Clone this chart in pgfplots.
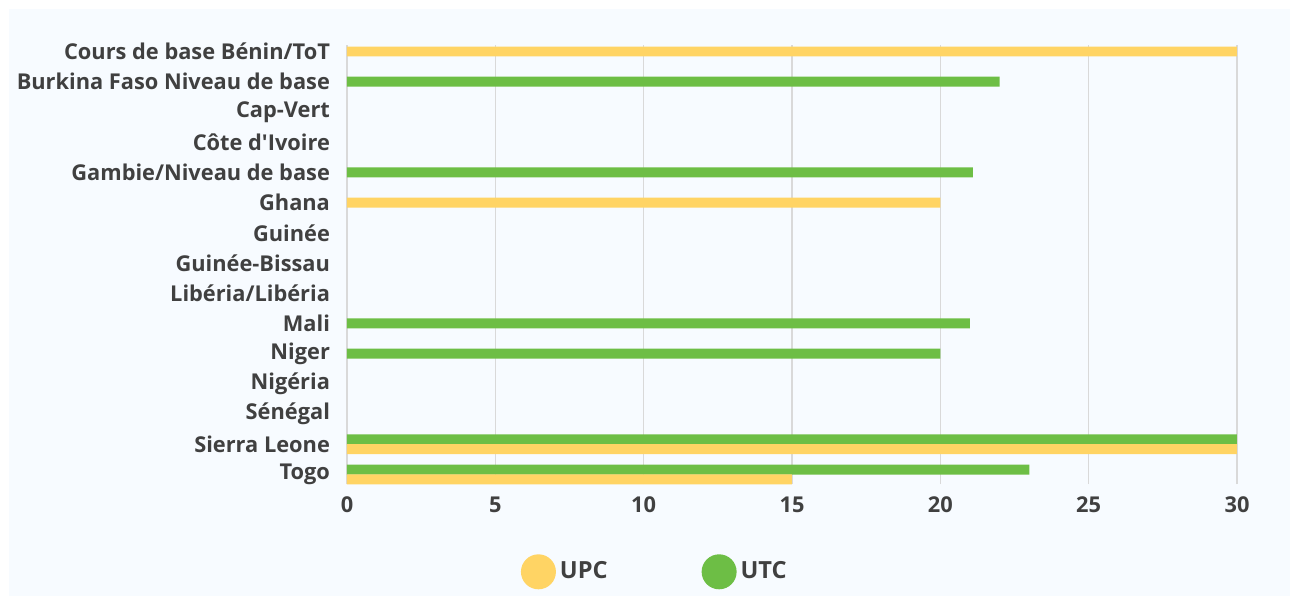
\documentclass[border=0pt]{standalone}
\usepackage{pgfplots}
\pgfplotsset{compat=1.18}
\usepackage{fontspec}
\setmainfont{Open Sans}
\definecolor{upc}{RGB}{255,212,100}
\definecolor{utc}{RGB}{109,190,69}
\definecolor{bg}{RGB}{247,251,255}
\definecolor{gridc}{RGB}{217,217,217}
\definecolor{txt}{RGB}{64,64,64}
\begin{document}
\begin{tikzpicture}
\useasboundingbox (-173.5pt,-56pt) rectangle (471.5pt,242pt);
\fill[white] (-173.5pt,-56pt) rectangle (471.5pt,242pt);
\fill[bg] (-169pt,-56pt) rectangle (471.5pt,237.5pt);
\begin{axis}[
  at={(0,0)}, anchor=south west,
  scale only axis,
  width=445pt, height=219.5pt,
  xbar, bar width=0.33,
  xmin=0, xmax=30,
  ymin=-0.314, ymax=14.215,
  xtick={0,5,...,30},
  ytick={0,...,14},
  yticklabels={Togo,Sierra Leone,Sénégal,Nigéria,Niger,Mali,Libéria/Libéria,Guinée-Bissau,Guinée,Ghana,Gambie/Niveau de base,Côte d\textquotesingle Ivoire,Cap-Vert,Burkina Faso Niveau de base,Cours de base Bénin/ToT},
  major tick length=0pt,
  axis line style={draw=none},
  xmajorgrids, ymajorgrids=false,
  grid style={gridc, line width=0.7pt},
  tick label style={font=\fontsize{10.9}{12}\selectfont\bfseries, text=txt},
  yticklabel style={xshift=-5pt},
  xticklabel style={yshift=-3pt},
  /pgf/number format/assume math mode=true,
  legend style={draw=none, fill=none, at={(0.347,-0.2)}, anchor=center,
    font=\fontsize{11.8}{13}\selectfont\bfseries, text=txt,
    legend columns=2,
    /tikz/every even column/.append style={column sep=45pt}},
  legend cell align=left,
]
\addplot[xbar, fill=upc, draw=none, bar shift=0pt,
  legend image code/.code={\fill[upc] (8.75pt,0) circle (8.75pt);}]
  coordinates {(30,14) (20,9)};
\addlegendentry{UPC}
\addplot[xbar, fill=utc, draw=none, bar shift=0pt,
  legend image code/.code={\fill[utc] (8.75pt,0) circle (8.75pt);}]
  coordinates {(22,13) (21.1,10) (21,5) (20,4)};
\addlegendentry{UTC}
\addplot[xbar, fill=utc, draw=none, bar shift=0.16, forget plot]
  coordinates {(30,1) (23,0)};
\addplot[xbar, fill=upc, draw=none, bar shift=-0.16, forget plot]
  coordinates {(30,1) (15,0)};
\end{axis}
\end{tikzpicture}
\end{document}
